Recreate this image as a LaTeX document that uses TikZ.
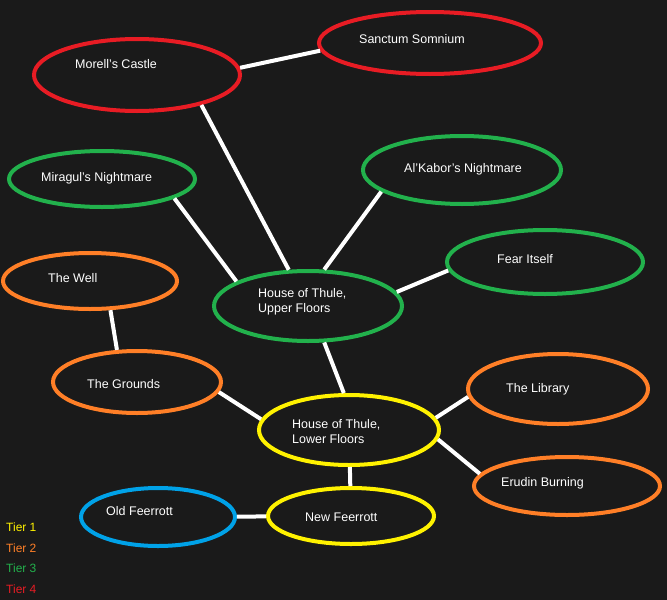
\documentclass[tikz,border=0pt]{standalone}
\usepackage{fontspec}
\setmainfont{Liberation Sans}
\usetikzlibrary{shapes.geometric}
\definecolor{bg}{RGB}{26,26,26}
\definecolor{tred}{RGB}{232,28,36}
\definecolor{tgreen}{RGB}{34,177,76}
\definecolor{torange}{RGB}{255,127,39}
\definecolor{tyellow}{RGB}{255,242,0}
\definecolor{tblue}{RGB}{0,162,232}
\begin{document}
\begin{tikzpicture}[x=1pt,y=-1pt,
  zone/.style={ellipse,draw,line width=4pt,inner sep=0pt},
  lbl/.style={text=white,font=\fontsize{12.5}{15}\selectfont,align=left,anchor=west,inner sep=0pt},
  link/.style={white,line width=4pt},
  tier/.style={font=\fontsize{12}{14}\selectfont,anchor=west,inner sep=0pt}]
\fill[bg] (0,0) rectangle (667,600);
\useasboundingbox (0,0) rectangle (667,600);
\newcommand\zn[6]{\node[zone,draw=#6,minimum width=#4pt,minimum height=#5pt] (#1) at (#2,#3) {};}
\zn{mor}{137}{75}{206}{72}{tred}
\zn{san}{430}{43}{222}{62}{tred}
\zn{mir}{102}{179}{186}{56}{tgreen}
\zn{alk}{462}{170}{198}{68}{tgreen}
\zn{fear}{545}{262}{196}{64}{tgreen}
\zn{well}{90}{281}{174}{56}{torange}
\zn{up}{308}{306}{188}{70}{tgreen}
\zn{gro}{137}{382}{168}{62}{torange}
\zn{low}{349}{430}{180}{70}{tyellow}
\zn{lib}{558}{389}{180}{70}{torange}
\zn{eru}{567}{486}{186}{58}{torange}
\zn{old}{158}{517}{154}{58}{tblue}
\zn{new}{351}{516}{166}{56}{tyellow}
\node[lbl] (tmor) at (75,64) {Morell's Castle};
\node[lbl] (tsan) at (359,39) {Sanctum Somnium};
\node[lbl] (tmir) at (41,178) {Miragul's Nightmare};
\node[lbl] (talk) at (404,169) {Al'Kabor's Nightmare};
\node[lbl] (tfear) at (497,259) {Fear Itself};
\node[lbl] (twell) at (48,278) {The Well};
\node[lbl] (tup) at (258,302) {House of Thule,\\Upper Floors};
\node[lbl] (tgro) at (87,384) {The Grounds};
\node[lbl] (tlow) at (292,432) {House of Thule,\\Lower Floors};
\node[lbl] (tlib) at (506,389) {The Library};
\node[lbl] (teru) at (501,483) {Erudin Burning};
\node[lbl] (told) at (106,511) {Old Feerrott};
\node[lbl] (tnew) at (305,517) {New Feerrott};
\draw[link] (mor.4) -- (san.-176);
\draw[link] (mor.-25) -- (up.118);
\draw[link] (mir.-15) -- (up.161);
\draw[link] (alk.-165) -- (up.66);
\draw[link] (fear.-175) -- (up.9);
\draw[link] (well.-55) -- (gro.122);
\draw[link] (up.-66) -- (low.98);
\draw[link] (gro.-7) -- (low.173);
\draw[link] (low.8) -- (lib.-175);
\draw[link] (low.-6) -- (eru.172);
\draw[link] (low) -- (new);
\draw[link] (old) -- (new);
\node[tier,text=tyellow] (t1) at (6,527) {Tier 1};
\node[tier,text=torange] (t2) at (6,548) {Tier 2};
\node[tier,text=tgreen] (t3) at (6,568) {Tier 3};
\node[tier,text=tred] (t4) at (6,589) {Tier 4};
\end{tikzpicture}
\end{document}
